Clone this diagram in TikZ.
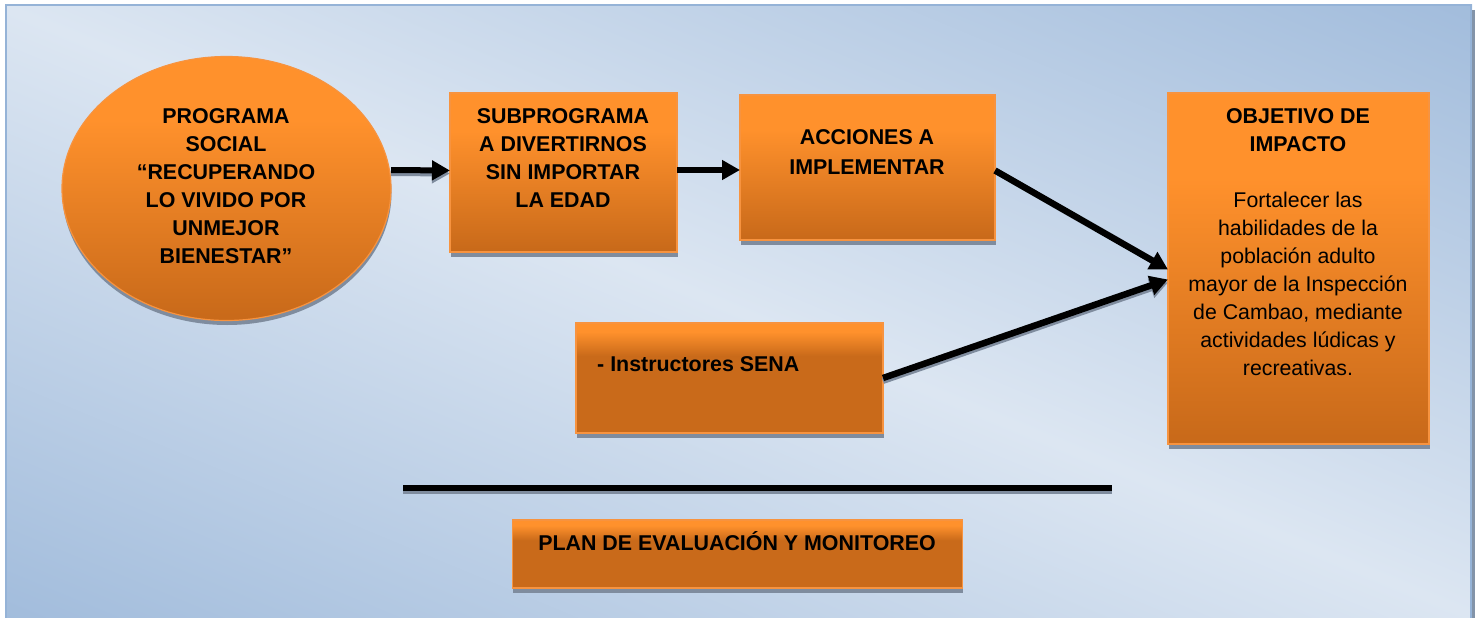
\documentclass[tikz,border=0pt]{standalone}
\usepackage{fontspec}
\setmainfont{Liberation Sans}
\usetikzlibrary{arrows.meta,shadows,shapes.geometric}
\definecolor{bgdark}{HTML}{95B3D7}
\definecolor{bglight}{HTML}{DCE6F2}
\definecolor{orbright}{HTML}{FF912C}
\definecolor{ordark}{HTML}{C96A1A}
\definecolor{oredge}{HTML}{F7933F}
\definecolor{shadowcol}{HTML}{7F8C9E}
\pgfdeclareverticalshading{mirrorbg}{100bp}{color(0bp)=(bgdark);color(10bp)=(bgdark);color(50bp)=(bglight);color(90bp)=(bgdark);color(100bp)=(bgdark)}
\pgfdeclareverticalshading{ortall}{100bp}{color(0bp)=(ordark);color(26bp)=(ordark);color(63bp)=(orbright);color(100bp)=(orbright)}
\pgfdeclareverticalshading{orshortA}{100bp}{color(0bp)=(ordark);color(60bp)=(ordark);color(71bp)=(orbright);color(100bp)=(orbright)}
\tikzset{
  x=1pt,y=-1pt,
  boxbase/.style={draw=oredge,line width=1.2pt,outer sep=0pt,inner sep=0pt,
    drop shadow={shadow xshift=0.5pt,shadow yshift=-4.5pt,fill=shadowcol,opacity=1}},
  boxtall/.style={boxbase,shading=ortall},
  boxflat/.style={boxbase,shading=orshortA},
  boldtext/.style={font=\fontsize{21.4}{28}\selectfont\bfseries,align=center,inner sep=0pt},
  plaintext/.style={font=\fontsize{21.3}{28}\selectfont,align=center,inner sep=0pt},
  conn/.style={line width=6pt,-{Triangle[length=18pt,width=19pt]}},
  connshadow/.style={conn,draw=shadowcol,fill=shadowcol,transform canvas={yshift=-3pt}},
}
\begin{document}
\begin{tikzpicture}
\useasboundingbox (0,0) rectangle (1481,618);
\path[shading=mirrorbg,shading angle=-22.5] (5,4.5) rectangle (1472,618);
\draw[bgdark,line width=2.5pt] (6,618) -- (6,5) -- (1471,5) -- (1471,618);
\draw[shadowcol!80!bgdark,line width=2.5pt] (1473.5,10) -- (1473.5,618);

\node[boxtall,shape=ellipse,minimum width=329pt,minimum height=264pt] (ellip) at (226.5,188.5) {};
\node[boxtall,minimum width=227pt,minimum height=159pt] (sub) at (563.5,172.5) {};
\node[boxtall,minimum width=255pt,minimum height=145pt] (acc) at (867.5,167.5) {};
\node[boxflat,minimum width=307pt,minimum height=110pt] (inst) at (729.5,378) {};
\node[boxtall,minimum width=261pt,minimum height=351pt] (obj) at (1298.5,268.5) {};
\node[boxflat,minimum width=450pt,minimum height=68pt] (plan) at (737.5,554) {};

\node[boldtext] (ellipT) at (226,186) {PROGRAMA\\SOCIAL\\“RECUPERANDO\\LO VIVIDO POR\\UNMEJOR\\BIENESTAR”};
\node[boldtext] (subT) at (563,158) {SUBPROGRAMA\\A DIVERTIRNOS\\SIN IMPORTAR\\LA EDAD};
\node[boldtext,font=\fontsize{21.4}{30}\selectfont\bfseries] (accT) at (867,152.5) {ACCIONES A\\IMPLEMENTAR};
\node[boldtext,anchor=west] (instT) at (597,364.5) {- Instructores SENA};
\node[boldtext] (planT) at (737,541) {PLAN DE EVALUACIÓN Y MONITOREO};
\node[boldtext] (objT) at (1298,130) {OBJETIVO DE\\IMPACTO};
\node[plaintext] (objB) at (1298,283.5) {Fortalecer las\\habilidades de la\\población adulto\\mayor de la Inspección\\de Cambao, mediante\\actividades lúdicas y\\recreativas.};

\coordinate (ruleL) at (403,488);
\coordinate (ruleR) at (1112,488);
\draw[shadowcol,line width=5pt] ([yshift=-3.5pt]ruleL) -- ([yshift=-3.5pt]ruleR);
\draw[black,line width=5.5pt] (ruleL) -- (ruleR);

\draw[connshadow] ([yshift=18.5pt]ellip.east) -- ([yshift=2pt]sub.west);
\draw[connshadow] (inst.east) -- ([yshift=-11pt]obj.west);
\draw[conn] ([yshift=18.5pt]ellip.east) -- ([yshift=2pt]sub.west);
\draw[conn] ([yshift=2.5pt]sub.east) -- ([yshift=-2.5pt]acc.west);
\draw[conn,line width=6.5pt] ([yshift=-3pt]acc.east) -- ([yshift=-1pt]obj.west);
\draw[conn,line width=6.5pt] (inst.east) -- ([yshift=-11pt]obj.west);
\end{tikzpicture}
\end{document}
